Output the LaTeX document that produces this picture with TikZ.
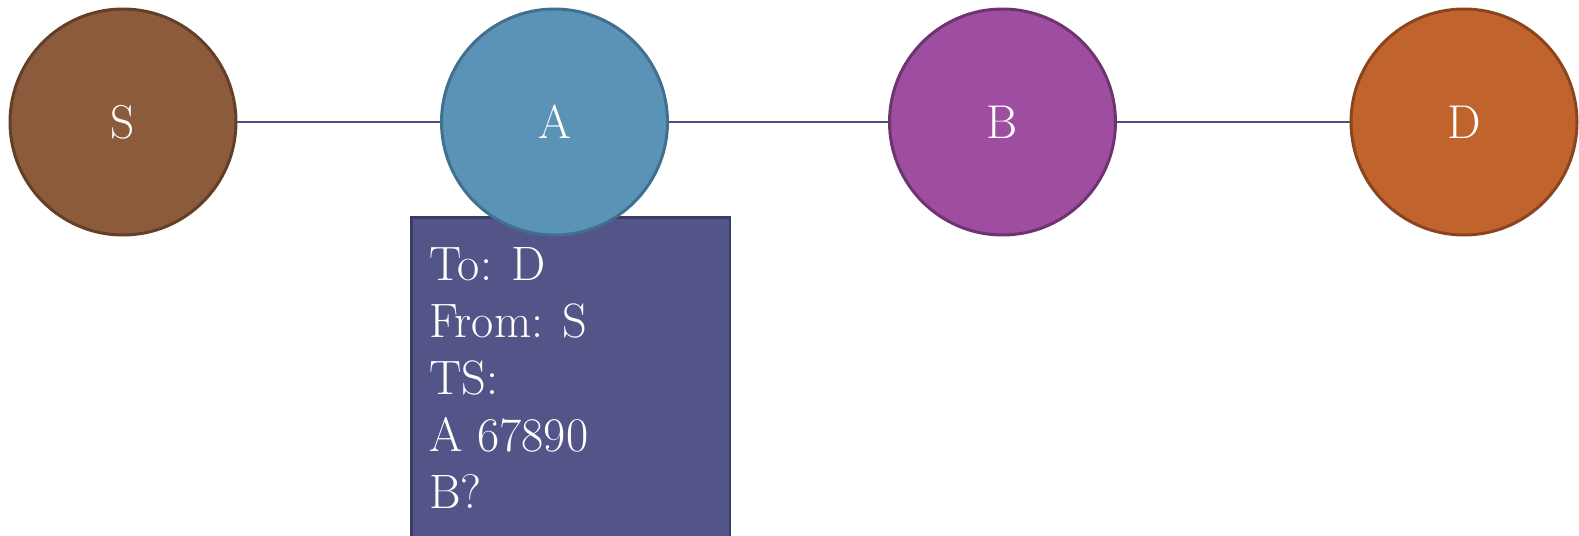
\documentclass[tikz,border=0pt]{standalone}
\usepackage{xcolor}

\definecolor{scolor}{HTML}{8B5B3B}
\definecolor{sborder}{HTML}{633F28}
\definecolor{acolor}{HTML}{5B93B6}
\definecolor{aborder}{HTML}{41708F}
\definecolor{bcolor}{HTML}{9E4DA0}
\definecolor{bborder}{HTML}{6E3470}
\definecolor{dcolor}{HTML}{C1632C}
\definecolor{dborder}{HTML}{8A451F}
\definecolor{packetcolor}{HTML}{535487}
\definecolor{packetborder}{HTML}{3B3C63}
\definecolor{linkcolor}{HTML}{4A5183}

\newcommand{\stationsize}{4.52cm}
\newcommand{\stationy}{-2.44}

\begin{document}
\begin{tikzpicture}[
    station/.style={circle, minimum size=\stationsize, inner sep=0pt, line width=1.7pt, text=white, font=\fontsize{27}{30}\selectfont},
    packet font/.style={font=\fontsize{27.5}{32.4}\selectfont},
    link/.style={draw=linkcolor, line width=1.4pt}
]

% CANVAS
\useasboundingbox (0,0) rectangle (31.58,-10.7);
\clip (0,0) rectangle (31.58,-10.7);

% PACKET
\node[draw=packetborder, fill=packetcolor, line width=1.7pt, rectangle, minimum width=6.37cm, minimum height=6.8cm, anchor=north west] (packet) at (8.2,-4.32) {};
\node[packet font, text=white, align=left, anchor=north west, inner sep=0pt] (packet_text) at (8.58,-4.95) {To: D\\From: S\\TS:\\A 67890\\B?};

% STATIONS
\node[station, draw=sborder, fill=scolor] (S) at (2.46,\stationy) {S};
\node[station, draw=aborder, fill=acolor] (A) at (11.09,\stationy) {A};
\node[station, draw=bborder, fill=bcolor] (B) at (20.05,\stationy) {B};
\node[station, draw=dborder, fill=dcolor] (D) at (29.28,\stationy) {D};

% LINKS
\draw[link] (S) -- (A);
\draw[link] (A) -- (B);
\draw[link] (B) -- (D);

\end{tikzpicture}
\end{document}
